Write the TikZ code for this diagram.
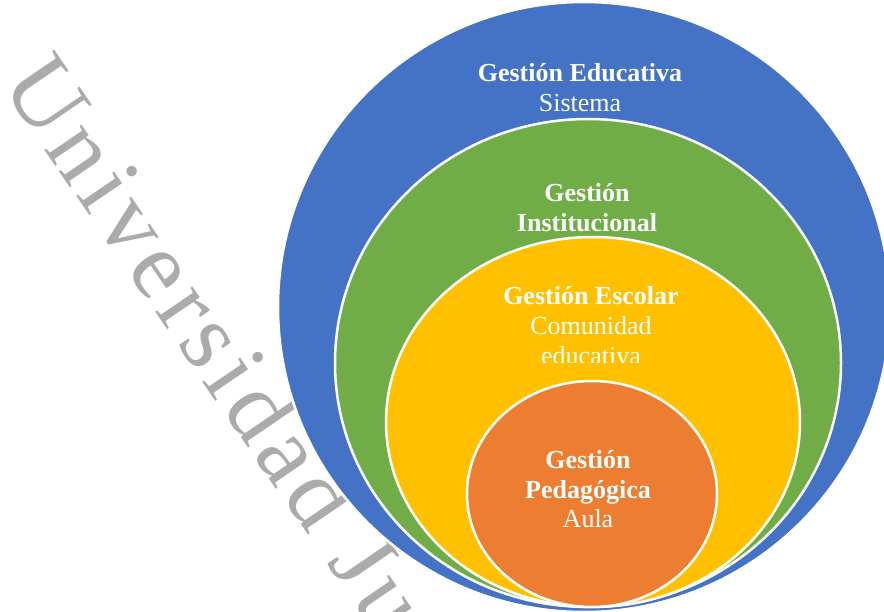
\documentclass[tikz,border=0pt]{standalone}
\usepackage{fontspec}
\setmainfont{Liberation Serif}
\newfontfamily\wmfont[LetterSpace=7]{Liberation Serif}
\definecolor{ringblue}{HTML}{4472C4}
\definecolor{ringgreen}{HTML}{70AD47}
\definecolor{ringyellow}{HTML}{FFC000}
\definecolor{ringorange}{HTML}{ED7D31}
\begin{document}
\begin{tikzpicture}[x=1pt,y=-1pt,
  ring/.style={draw=white,line width=2.5pt},
  lbl/.style={anchor=base,text=white,inner sep=0pt,font=\fontsize{26}{30}\selectfont},
  lblb/.style={lbl,font=\fontsize{26}{30}\selectfont\bfseries}]
\useasboundingbox (0,0) rectangle (884,612);
% marca de agua
\node[anchor=base west,rotate=-55.7,inner sep=0pt,text=black!33,
  font=\wmfont\fontsize{98}{98}\selectfont] (marca) at (0,84) {Universidad Ju};
% anillos
\filldraw[ring,fill=ringblue] (584,307) ellipse [x radius=306, y radius=305];
\filldraw[ring,fill=ringgreen] (588,363) ellipse [x radius=253, y radius=244];
\filldraw[ring,fill=ringyellow] (593,422) ellipse [x radius=207, y radius=185];
\filldraw[ring,fill=ringorange] (592,494) ellipse [x radius=125, y radius=113];
% textos
\node[lblb] (edu) at (580,82) {Gestión Educativa};
\node[lbl] (sis) at (580,112) {Sistema};
\node[lblb] (ins1) at (587,202) {Gestión};
\node[lblb] (ins2) at (587,232) {Institucional};
\node[lblb] (esc) at (591,305) {Gestión Escolar};
\node[lbl] (com1) at (591,335) {Comunidad};
\begin{scope}
\clip (380,0) rectangle (800,363);
\node[lbl] (com2) at (591,365) {educativa};
\end{scope}
\node[lblb] (ped1) at (588,468) {Gestión};
\node[lblb] (ped2) at (588,498) {Pedagógica};
\node[lbl] (aula) at (588,527) {Aula};
\end{tikzpicture}
\end{document}
